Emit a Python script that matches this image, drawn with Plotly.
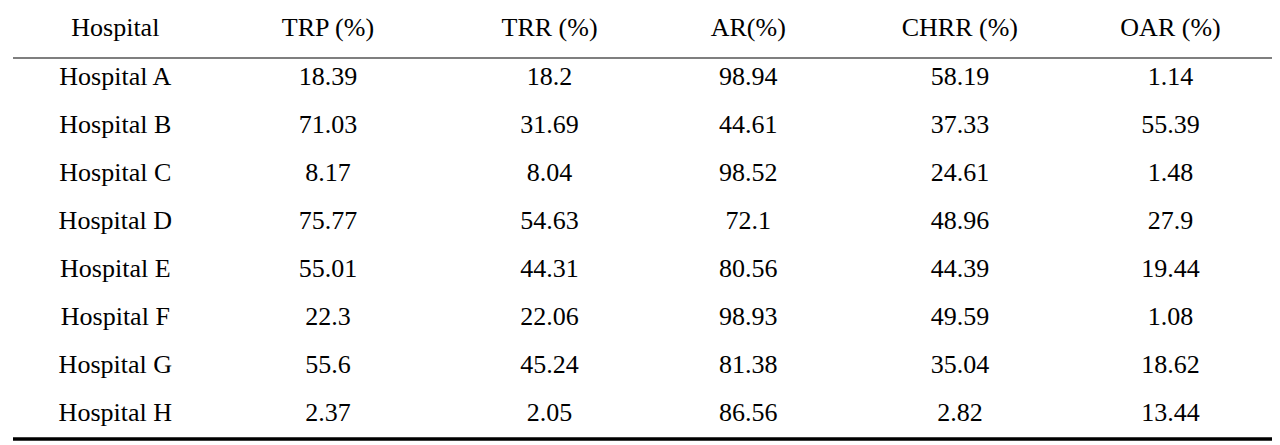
import plotly.graph_objects as go

columns = ["Hospital", "TRP (%)", "TRR (%)", "AR(%)", "CHRR (%)", "OAR (%)"]
hospitals = ["Hospital A", "Hospital B", "Hospital C", "Hospital D",
             "Hospital E", "Hospital F", "Hospital G", "Hospital H"]
trp = ["18.39", "71.03", "8.17", "75.77", "55.01", "22.3", "55.6", "2.37"]
trr = ["18.2", "31.69", "8.04", "54.63", "44.31", "22.06", "45.24", "2.05"]
ar = ["98.94", "44.61", "98.52", "72.1", "80.56", "98.93", "81.38", "86.56"]
chrr = ["58.19", "37.33", "24.61", "48.96", "44.39", "49.59", "35.04", "2.82"]
oar = ["1.14", "55.39", "1.48", "27.9", "19.44", "1.08", "18.62", "13.44"]

font = dict(family="Liberation Serif", size=26, color="black")

fig = go.Figure(go.Table(
    columnwidth=[216, 212, 234, 166, 260, 164],
    header=dict(values=columns, align="center", height=49,
                fill_color="white", line_color="white", font=font),
    cells=dict(values=[hospitals, trp, trr, ar, chrr, oar], align="center",
               height=48, fill_color="white", line_color="white", font=font),
    domain=dict(x=[0, 1], y=[0, 1]),
))

W, H = 1280, 445
R = 36
lines = [(3, 3.5), (57, 1.2), (438, 3.5)]
for y, w in lines:
    yy = 1 - (y - 7) / H
    fig.add_shape(type="line", xref="paper", yref="paper",
                  x0=5 / (W - R), x1=1272 / (W - R), y0=yy, y1=yy,
                  line=dict(color="black", width=w))

fig.update_layout(width=W, height=H, margin=dict(l=0, r=R, t=0, b=0),
                  paper_bgcolor="white")
fig.write_html("out.html")
